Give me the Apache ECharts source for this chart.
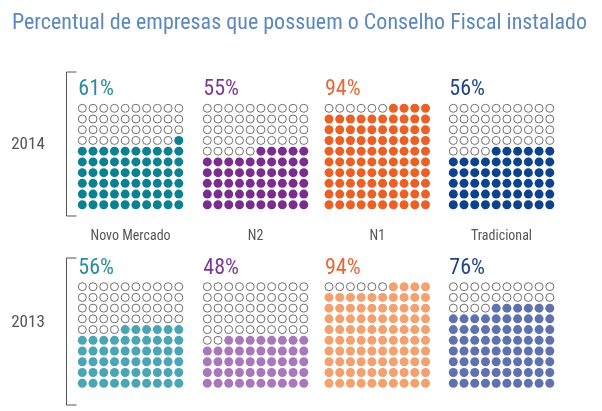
<!DOCTYPE html>
<html><head><meta charset="utf-8">
<script src="https://cdn.jsdelivr.net/npm/echarts@6/dist/echarts.min.js"></script>
<style>html,body{margin:0;padding:0;background:#fff}#c{width:602px;height:411px}</style>
</head><body><div id="c"></div>
<script>
const titleText = 'Percentual de empresas que possuem o Conselho Fiscal instalado';
const categories = ['Novo Mercado', 'N2', 'N1', 'Tradicional'];
const years = ['2014', '2013'];
const values2014 = [61, 55, 94, 56];
const values2013 = [56, 48, 94, 76];
const colors2014 = ['#0e8191', '#7b2d8f', '#ea6127', '#0d428d'];
const colors2013 = ['#4aa5b5', '#a878ba', '#f2a16f', '#5f72ae'];
const labelColors2014 = ['#2a8d9c', '#7b3a92', '#e8673a', '#1f4583'];
const labelColors2013 = ['#2a8d9c', '#7b3a92', '#e8673a', '#1f4583'];

const FONT = "'Liberation Sans Narrow', 'Roboto Condensed', Roboto, sans-serif";
const panelLeft = [82.3, 207.3, 329, 453.3];
const panelTop = [108.3, 286.7];
const span = 96.5;

const valuesByYear = [values2014, values2013];
const colorsByYear = [colors2014, colors2013];
const labelColorsByYear = [labelColors2014, labelColors2013];

function dots(n) {
  const filled = [], empty = [];
  const full = Math.floor(n / 10), rem = n % 10;
  for (let row = 0; row < 10; row++) {
    for (let col = 0; col < 10; col++) {
      let isFilled = row < full || (row === full && col >= 10 - rem);
      (isFilled ? filled : empty).push([col, row]);
    }
  }
  return { filled, empty };
}

const grid = [], xAxis = [], yAxis = [], series = [], graphic = [];
let gi = 0;
years.forEach((yr, yi) => {
  categories.forEach((cat, ci) => {
    grid.push({ left: panelLeft[ci], top: panelTop[yi], width: span, height: span });
    xAxis.push({ gridIndex: gi, type: 'value', min: 0, max: 9, show: false });
    yAxis.push({ gridIndex: gi, type: 'value', min: 0, max: 9, show: false });
    const d = dots(valuesByYear[yi][ci]);
    series.push({
      type: 'scatter', xAxisIndex: gi, yAxisIndex: gi, data: d.empty, symbolSize: 8,
      itemStyle: { color: '#fff', borderColor: '#6f6f6f', borderWidth: 1, opacity: 1 }, silent: true
    });
    series.push({
      type: 'scatter', xAxisIndex: gi, yAxisIndex: gi, data: d.filled, symbolSize: 9,
      itemStyle: { color: colorsByYear[yi][ci], opacity: 1 }, silent: true
    });
    graphic.push({
      type: 'text', left: panelLeft[ci] - 4, top: yi === 0 ? 78 : 257,
      style: { text: valuesByYear[yi][ci] + '%', fontFamily: FONT, fontSize: 22, fill: labelColorsByYear[yi][ci] }
    });
    gi++;
  });
});

categories.forEach((cat, ci) => {
  graphic.push({
    type: 'text', x: panelLeft[ci] + span / 2, y: 236,
    style: { text: cat, fontFamily: FONT, fontSize: 14, fill: '#555', align: 'center', verticalAlign: 'middle' }
  });
});

const yearY = [145, 323];
const bracket = [[72, 216], [258, 405]];
years.forEach((yr, yi) => {
  graphic.push({
    type: 'text', x: 28, y: yearY[yi],
    style: { text: yr, fontFamily: FONT, fontSize: 17, fill: '#555', align: 'center', verticalAlign: 'middle' }
  });
  graphic.push({
    type: 'polyline',
    shape: { points: [[76.5, bracket[yi][0]], [66.5, bracket[yi][0]], [66.5, bracket[yi][1]], [76.5, bracket[yi][1]]] },
    style: { stroke: '#555', lineWidth: 1, fill: null }
  });
});

const chart = echarts.init(document.getElementById('c'));
chart.setOption({
  animation: false,
  title: { text: titleText, left: 7, top: 7, textStyle: { fontFamily: FONT, fontSize: 22, fontWeight: 'normal', color: '#5d88bd' } },
  grid, xAxis, yAxis, series, graphic
});
</script></body></html>
